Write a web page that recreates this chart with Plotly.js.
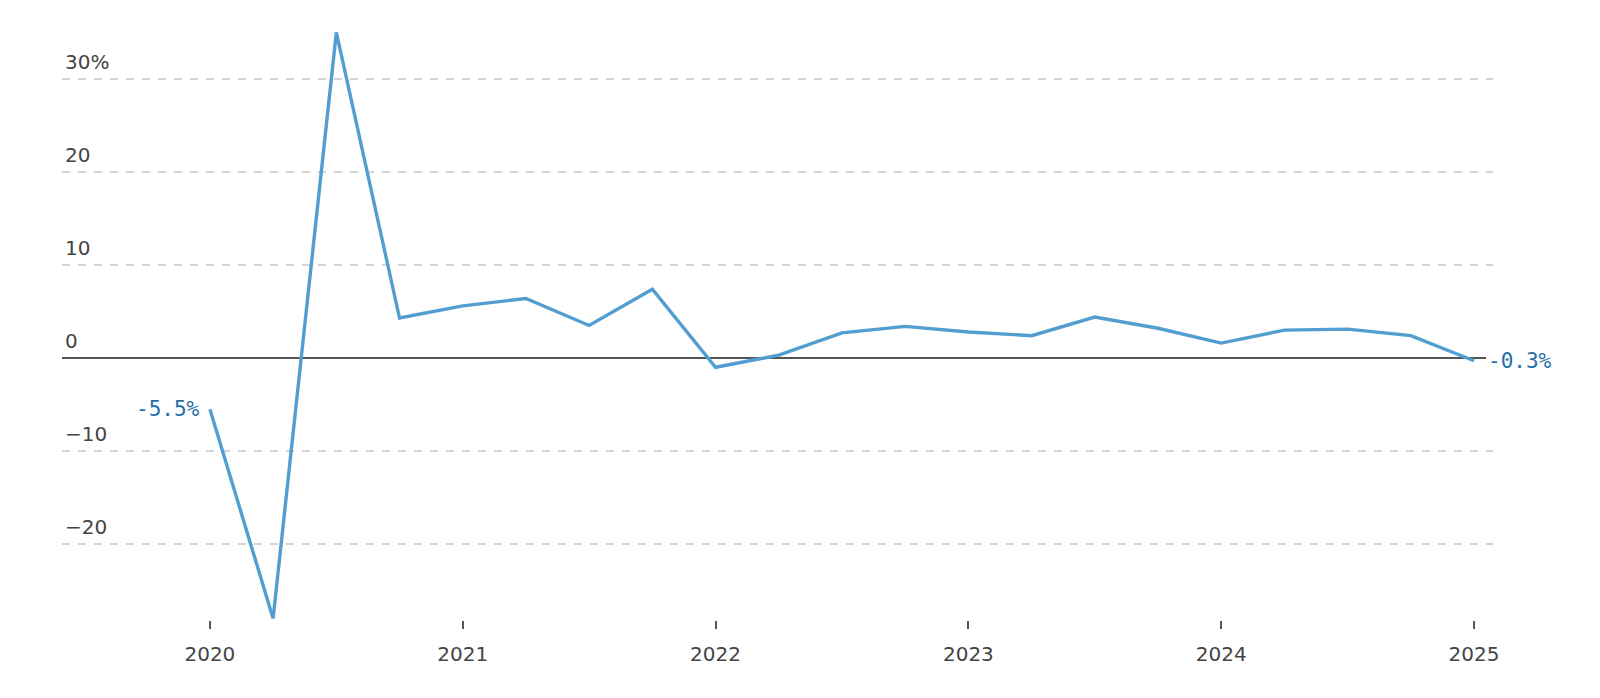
<!DOCTYPE html>
<html>
<head>
<meta charset="utf-8">
<script src="https://cdn.plot.ly/plotly-3.0.1.min.js"></script>
<style>html,body{margin:0;padding:0;background:#fff;}#chart{width:1600px;height:698px;}</style>
</head>
<body>
<div id="chart"></div>
<script>
const quarters = [2020, 2020.25, 2020.5, 2020.75, 2021, 2021.25, 2021.5, 2021.75,
                  2022, 2022.25, 2022.5, 2022.75, 2023, 2023.25, 2023.5, 2023.75,
                  2024, 2024.25, 2024.5, 2024.75, 2025];
const growth = [-5.5, -28.0, 35.0, 4.3, 5.6, 6.4, 3.5, 7.4,
                -1.0, 0.3, 2.7, 3.4, 2.8, 2.4, 4.4, 3.2,
                1.6, 3.0, 3.1, 2.4, -0.3];
const yTickVals = [-20, -10, 0, 10, 20, 30];
const yTickText = ['\u221220', '\u221210', '0', '10', '20', '30%'];
const xTickVals = [2020, 2021, 2022, 2023, 2024, 2025];
const xTickText = ['2020', '2021', '2022', '2023', '2024', '2025'];
const firstLabel = '-5.5%';
const lastLabel = '-0.3%';

const trace = {
  x: quarters, y: growth, type: 'scatter', mode: 'lines',
  line: {color: '#529ed1', width: 3.4},
  hoverinfo: 'skip', cliponaxis: false
};

const n = quarters.length;
const layout = {
  width: 1600, height: 698,
  margin: {l: 62, r: 107, t: 20, b: 78},
  paper_bgcolor: '#fff', plot_bgcolor: '#fff',
  showlegend: false,
  font: {family: 'DejaVu Sans, sans-serif', size: 20, color: '#444'},
  xaxis: {
    range: [2019.415, 2025.075],
    tickvals: xTickVals, ticktext: xTickText,
    showgrid: false, zeroline: false, showline: false,
    ticks: 'outside', ticklen: 8, tickwidth: 2, tickcolor: '#555',
    ticklabelstandoff: 8,
    tickfont: {family: 'DejaVu Sans, sans-serif', size: 20, color: '#444'}
  },
  yaxis: {
    range: [-28.17, 36.34],
    tickvals: yTickVals, ticktext: yTickText,
    ticklabelposition: 'inside top',
    ticklabelshift: -3,
    showgrid: true, gridcolor: '#d3d3d3', gridwidth: 1.5, griddash: '8px,8px',
    zeroline: true, zerolinecolor: '#555', zerolinewidth: 1.5,
    showline: false, ticks: '',
    tickfont: {family: 'DejaVu Sans, sans-serif', size: 20, color: '#444'}
  },
  shapes: [
    {type: 'line', xref: 'paper', yref: 'y', x0: 0.9951, x1: 1.002, y0: 0, y1: 0,
     line: {color: '#fff', width: 3}, layer: 'above'}
  ],
  annotations: [
    {x: quarters[0], y: growth[0], xref: 'x', yref: 'y', text: firstLabel,
     showarrow: false, xanchor: 'right', yanchor: 'middle', xshift: -8,
     font: {family: 'DejaVu Sans Mono, monospace', size: 21, color: '#1f6fa8'}},
    {x: quarters[n-1], y: growth[n-1], xref: 'x', yref: 'y', text: lastLabel,
     showarrow: false, xanchor: 'left', yanchor: 'middle', xshift: 12,
     font: {family: 'DejaVu Sans Mono, monospace', size: 21, color: '#1f6fa8'}}
  ]
};

Plotly.newPlot('chart', [trace], layout, {staticPlot: true, displayModeBar: false});
</script>
</body>
</html>
